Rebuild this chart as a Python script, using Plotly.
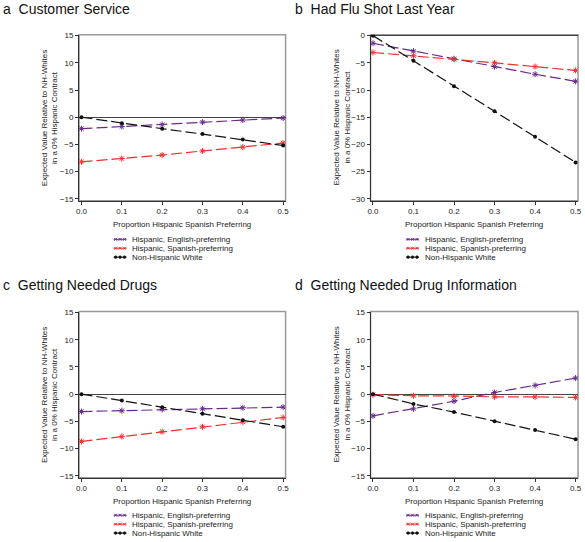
import plotly.graph_objects as go

W, H = 585, 542

x_vals = [0.0, 0.1, 0.2, 0.3, 0.4, 0.5]
series_names = ["Hispanic, English-preferring", "Hispanic, Spanish-preferring", "Non-Hispanic White"]

a_eng = [-2.1, -1.7, -1.35, -0.9, -0.5, -0.15]
a_spa = [-8.2, -7.6, -6.95, -6.2, -5.5, -4.75]
a_nhw = [0.0, -1.1, -2.1, -3.1, -4.1, -5.2]

b_eng = [-1.4, -2.85, -4.25, -5.7, -7.1, -8.4]
b_spa = [-3.1, -3.7, -4.35, -5.0, -5.7, -6.4]
b_nhw = [0.0, -4.6, -9.3, -13.9, -18.6, -23.3]

c_eng = [-3.2, -3.05, -2.8, -2.7, -2.5, -2.4]
c_spa = [-8.7, -7.8, -6.9, -6.0, -5.1, -4.3]
c_nhw = [0.0, -1.16, -2.4, -3.6, -4.8, -6.0]

d_eng = [-4.0, -2.7, -1.3, 0.3, 1.6, 2.95]
d_spa = [-0.1, -0.3, -0.35, -0.5, -0.5, -0.6]
d_nhw = [0.0, -1.8, -3.3, -5.0, -6.6, -8.3]

panel_titles = ["a\u00a0\u00a0Customer Service", "b\u00a0\u00a0Had Flu Shot Last Year",
                "c\u00a0\u00a0Getting Needed Drugs", "d\u00a0\u00a0Getting Needed Drug Information"]
x_title = "Proportion Hispanic Spanish Preferring"
y_title = "Expected Value Relative to NH-Whites<br>in a 0% Hispanic Contract"
x_ticks = [0.0, 0.1, 0.2, 0.3, 0.4, 0.5]
x_ticktext = ["0.0", "0.1", "0.2", "0.3", "0.4", "0.5"]
y_ticks_std = [-15, -10, -5, 0, 5, 10, 15]
y_ticks_b = [-30, -25, -20, -15, -10, -5, 0]

panels = [
    (a_eng, a_spa, a_nhw),
    (b_eng, b_spa, b_nhw),
    (c_eng, c_spa, c_nhw),
    (d_eng, d_spa, d_nhw),
]

COL_ENG = "#6a2a8c"
COL_SPA = "#f03030"
COL_NHW = "#111111"
colors = [COL_ENG, COL_SPA, COL_NHW]
FONT = "Liberation Sans, Arial, sans-serif"

# plot rectangles in pixels (x0, x1, y0, y1) from top-left
rects = [(77, 286, 32, 200), (372, 582, 32, 200), (77, 286, 312, 480), (372, 582, 312, 480)]
y_ranges = [[-15.36, 15.18], [-30.36, 0.18], [-15.36, 15.18], [-15.36, 15.18]]
y_tickvals = [y_ticks_std, y_ticks_b, y_ticks_std, y_ticks_std]
x_range = [-0.006, 0.506]

fig = go.Figure()
layout = dict(width=W, height=H, margin=dict(l=0, r=0, t=0, b=0),
              paper_bgcolor="white", plot_bgcolor="white", showlegend=False,
              font=dict(family=FONT, size=8, color="#222"))
shapes = []
annotations = []

def px(xp):
    return xp / W

def py(yp):
    return 1 - yp / H

for i, (vals, rect) in enumerate(zip(panels, rects)):
    k = "" if i == 0 else str(i + 1)
    xa, ya = "x" + k, "y" + k
    for j, (v, col) in enumerate(zip(vals, colors)):
        if j < 2:
            marker = dict(symbol="asterisk-open", size=5, color=col, line=dict(color=col, width=1))
        else:
            marker = dict(symbol="circle", size=4, color=col)
        fig.add_trace(go.Scatter(x=x_vals, y=v, mode="lines+markers", name=series_names[j],
                                 line=dict(color=col, width=1.2, dash="11px,4px"),
                                 marker=marker, xaxis=xa, yaxis=ya))
    x0, x1, y0, y1 = rect
    layout["xaxis" + k] = dict(domain=[px(x0), px(x1)], range=x_range, anchor=ya,
                               tickvals=x_ticks, ticktext=x_ticktext, ticks="outside",
                               ticklen=3, tickcolor="#333", showline=True, linecolor="#333",
                               linewidth=1, showgrid=False, zeroline=False,
                               tickfont=dict(size=8, color="#222"))
    layout["yaxis" + k] = dict(domain=[py(y1), py(y0)], range=y_ranges[i], anchor=xa,
                               tickvals=y_tickvals[i], ticks="outside", ticklen=3,
                               tickcolor="#333", showline=True, linecolor="#333", linewidth=1,
                               showgrid=False, zeroline=True, zerolinecolor="#444",
                               zerolinewidth=1, tickfont=dict(size=8, color="#222"))
    # frame
    shapes.append(dict(type="rect", xref=xa + " domain", yref=ya + " domain",
                       x0=0, x1=1, y0=0, y1=1, line=dict(color="#999", width=1.5), layer="below"))
    # titles
    tx = -2 if i % 2 == 0 else 294
    ty = 6 if i < 2 else 285
    annotations.append(dict(text=panel_titles[i], x=px(tx), y=py(ty), xref="paper", yref="paper",
                            xanchor="left", yanchor="middle", showarrow=False,
                            font=dict(size=14, color="#111", family=FONT)))
    # y title
    yt_x = 47 if i % 2 == 0 else 343
    annotations.append(dict(text=y_title, x=px(yt_x), y=py((y0 + y1) / 2), xref="paper", yref="paper",
                            xanchor="center", yanchor="middle", textangle=-90, showarrow=False,
                            font=dict(size=8, color="#222", family=FONT)))
    # x title
    annotations.append(dict(text=x_title, x=px((x0 + x1) / 2), y=py(y1 + 24), xref="paper", yref="paper",
                            xanchor="center", yanchor="middle", showarrow=False,
                            font=dict(size=8, color="#222", family=FONT)))
    # legend
    lx = 112 if i % 2 == 0 else 408
    rows = [239, 248, 257] if i < 2 else [518, 527, 536]
    for j, ry in enumerate(rows):
        col = colors[j]
        shapes.append(dict(type="line", xref="paper", yref="paper", x0=px(lx), x1=px(lx + 13),
                           y0=py(ry), y1=py(ry), line=dict(color=col, width=1)))
        for m in range(3):
            cx = lx + 2 + m * 4.5
            if j == 2:
                shapes.append(dict(type="circle", xref="paper", yref="paper",
                                   x0=px(cx - 1.4), x1=px(cx + 1.4), y0=py(ry + 1.4), y1=py(ry - 1.4),
                                   fillcolor=col, line=dict(color=col, width=0.5)))
            else:
                shapes.append(dict(type="line", xref="paper", yref="paper",
                                   x0=px(cx - 1.4), x1=px(cx + 1.4), y0=py(ry + 1.4), y1=py(ry - 1.4),
                                   line=dict(color=col, width=1)))
                shapes.append(dict(type="line", xref="paper", yref="paper",
                                   x0=px(cx - 1.4), x1=px(cx + 1.4), y0=py(ry - 1.4), y1=py(ry + 1.4),
                                   line=dict(color=col, width=1)))
        annotations.append(dict(text=series_names[j], x=px(lx + 17), y=py(ry), xref="paper", yref="paper",
                                xanchor="left", yanchor="middle", showarrow=False,
                                font=dict(size=8, color="#222", family=FONT)))

layout["shapes"] = shapes
layout["annotations"] = annotations
fig.update_layout(**layout)
fig.write_html("out.html", config={"displayModeBar": False},
               post_script="document.body.style.margin='0';document.body.style.overflow='hidden';")
